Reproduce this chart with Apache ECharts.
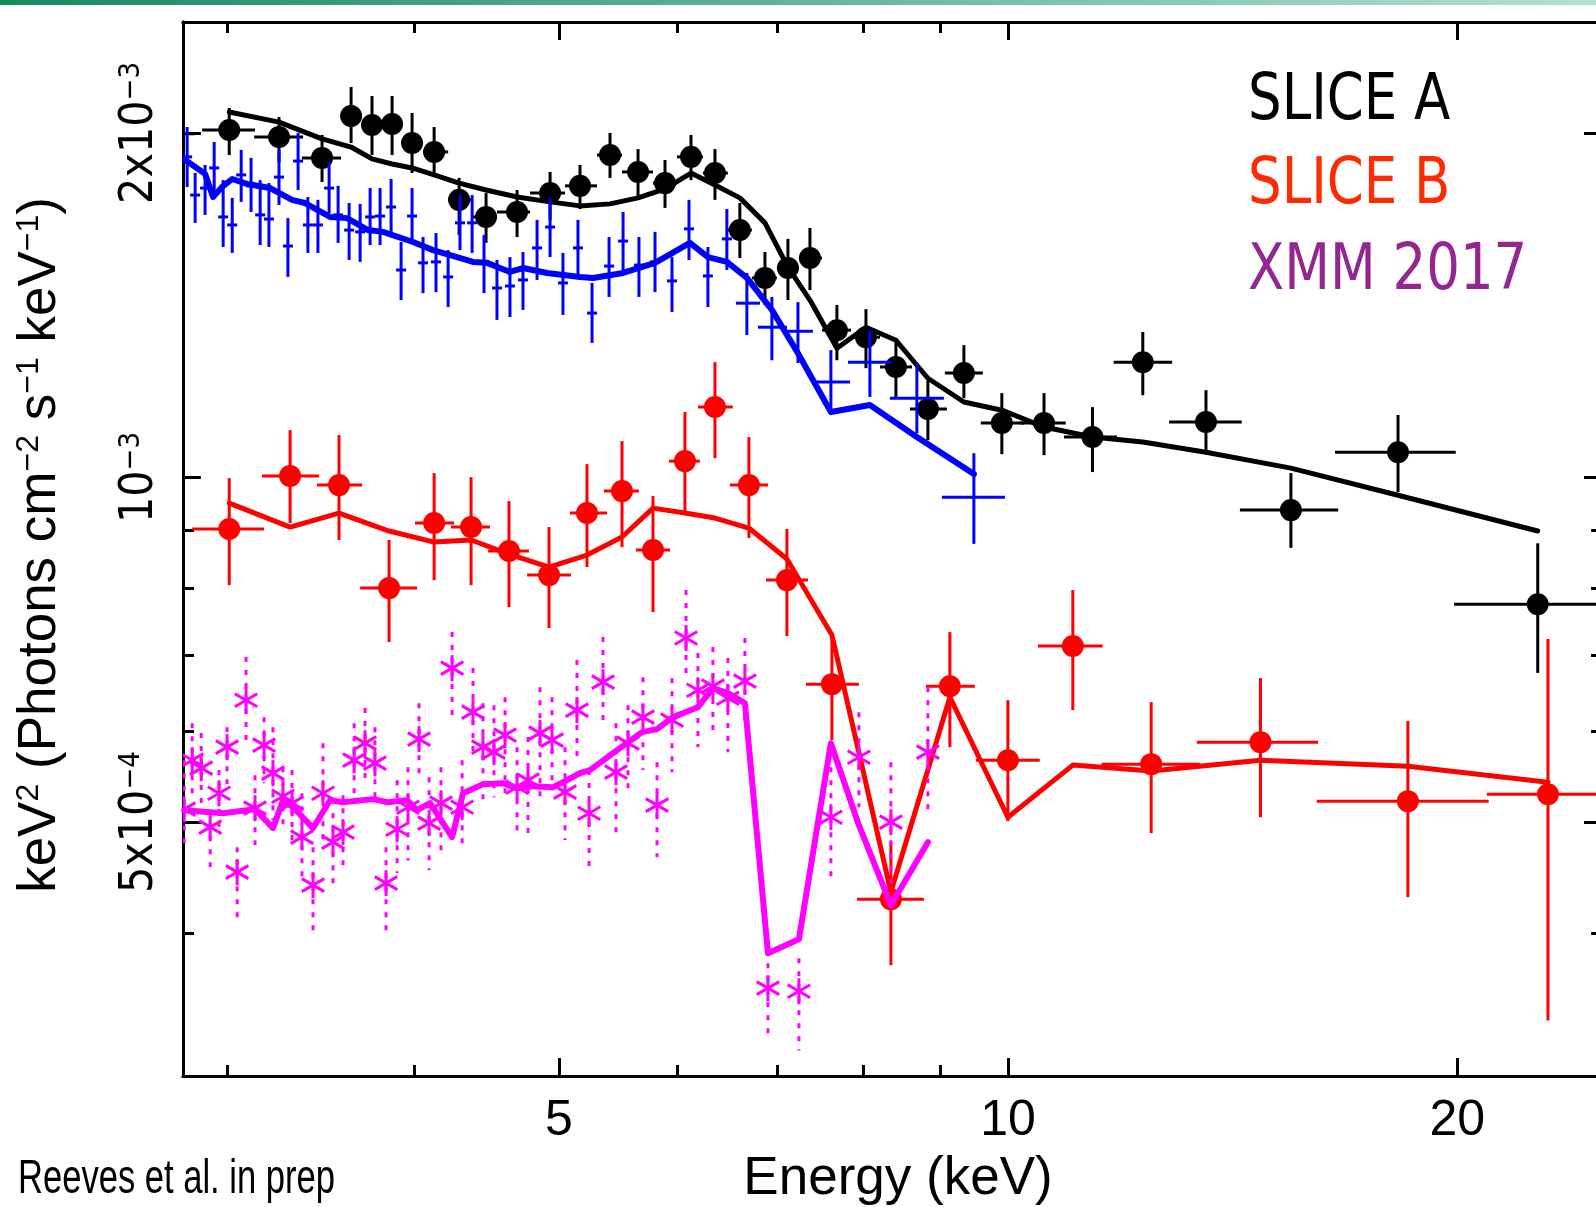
<!DOCTYPE html>
<html>
<head>
<meta charset="utf-8">
<title>Slice A / Slice B / XMM 2017 unfolded spectra</title>
<script src="https://cdn.jsdelivr.net/npm/echarts@6/dist/echarts.min.js"></script>
<style>
  html, body { margin: 0; padding: 0; background: #ffffff; }
  #chart { width: 1596px; height: 1207px; }
</style>
</head>
<body>
<div id="chart"></div>
<script>
// Fluxes below are written in units of 1e-3 keV^2 (Photons cm^-2 s^-1 keV^-1).
const FLUX_UNIT = 1e-3;

// Axis ranges and tick positions
const energyMin = 2.8, energyMax = 25;
const fluxMin = 3e-4, fluxMax = 2.5e-3;
const energyMajorTicks = [5, 10, 20];
const energyMinorTicks = [3, 4, 6, 7, 8, 9];
const energyTickLabels = ['5', '10', '20'];
const fluxMajorTicks = [5e-4, 1e-3, 2e-3];
const fluxMinorTicks = [4e-4, 6e-4, 7e-4, 8e-4, 9e-4];
const fluxTickMantissa = ['5x10', '10', '2x10'];
const fluxTickExponent = ['\u22124', '\u22123', '\u22123'];

// ---- SLICE A (black) ----
const sliceAEnergy   = [2.746, 3.007, 3.247, 3.470, 3.629, 3.748, 3.866, 3.987, 4.125, 4.287, 4.469, 4.688, 4.933, 5.166, 5.411, 5.650, 5.890, 6.131, 6.362, 6.611, 6.872, 7.120, 7.366, 7.679, 8.031, 8.411, 8.836, 9.341, 9.904, 10.57, 11.39, 12.31, 13.57, 15.47, 18.25, 22.64];
const sliceAEnergyLo = [2.641, 2.884, 3.125, 3.364, 3.573, 3.691, 3.812, 3.920, 4.055, 4.215, 4.367, 4.545, 4.783, 5.048, 5.303, 5.512, 5.782, 6.000, 6.245, 6.490, 6.735, 7.000, 7.242, 7.504, 7.848, 8.207, 8.595, 9.071, 9.588, 10.18, 10.90, 11.77, 12.82, 14.30, 16.56, 19.90];
const sliceAEnergyHi = [2.853, 3.129, 3.370, 3.573, 3.691, 3.812, 3.920, 4.055, 4.215, 4.367, 4.545, 4.783, 5.048, 5.303, 5.512, 5.782, 6.000, 6.245, 6.490, 6.735, 7.000, 7.242, 7.504, 7.848, 8.207, 8.622, 9.099, 9.618, 10.25, 10.93, 11.83, 12.88, 14.34, 16.64, 19.95, 25.50];
const sliceAFlux     = [1.997, 2.012, 1.984, 1.902, 2.069, 2.032, 2.036, 1.960, 1.925, 1.748, 1.689, 1.706, 1.772, 1.798, 1.913, 1.849, 1.808, 1.906, 1.845, 1.645, 1.494, 1.524, 1.555, 1.345, 1.326, 1.249, 1.148, 1.234, 1.116, 1.116, 1.085, 1.261, 1.118, 0.9365, 1.052, 0.775];
const sliceAFluxHi   = [2.073, 2.103, 2.065, 1.992, 2.194, 2.154, 2.154, 2.082, 2.024, 1.827, 1.772, 1.783, 1.849, 1.875, 2.000, 1.936, 1.894, 1.992, 1.936, 1.737, 1.574, 1.616, 1.652, 1.415, 1.403, 1.324, 1.216, 1.305, 1.185, 1.185, 1.152, 1.340, 1.192, 1.009, 1.134, 0.876];
const sliceAFluxLo   = [1.913, 1.913, 1.886, 1.812, 1.960, 1.913, 1.913, 1.845, 1.830, 1.629, 1.603, 1.622, 1.679, 1.716, 1.827, 1.758, 1.720, 1.819, 1.748, 1.555, 1.415, 1.429, 1.458, 1.266, 1.246, 1.176, 1.078, 1.173, 1.048, 1.046, 1.011, 1.180, 1.057, 0.868, 0.971, 0.675];
const sliceAModelEnergy = [3.007, 3.247, 3.470, 3.629, 3.748, 3.866, 3.987, 4.125, 4.287, 4.469, 4.688, 4.933, 5.166, 5.411, 5.650, 5.890, 6.131, 6.362, 6.611, 6.872, 7.120, 7.366, 7.679, 8.031, 8.411, 8.836, 9.341, 9.904, 10.57, 11.39, 12.31, 13.57, 15.47, 18.25, 22.64];
const sliceAModelFlux   = [2.086, 2.044, 1.976, 1.944, 1.898, 1.879, 1.864, 1.838, 1.808, 1.783, 1.758, 1.741, 1.727, 1.734, 1.755, 1.787, 1.845, 1.801, 1.755, 1.669, 1.527, 1.429, 1.297, 1.353, 1.318, 1.221, 1.164, 1.145, 1.107, 1.085, 1.074, 1.052, 1.019, 0.965, 0.898];

// ---- blue spectrum (no legend entry) ----
const blueEnergy = [2.818, 2.853, 2.897, 2.938, 2.979, 3.021, 3.063, 3.110, 3.154, 3.197, 3.247, 3.292, 3.344, 3.395, 3.448, 3.508, 3.557, 3.618, 3.680, 3.737, 3.795, 3.860, 3.920, 3.987, 4.055, 4.137, 4.215, 4.293, 4.374, 4.455, 4.545, 4.637, 4.731, 4.835, 4.933, 5.032, 5.150, 5.263, 5.403, 5.521, 5.658, 5.800, 5.954, 6.112, 6.293, 6.480, 6.683, 6.946, 7.231, 7.608, 8.080, 8.687, 9.486];
// Energy bounds are given only for the broad high-energy bins; the narrow bins get a short tick.
const blueEnergyLo = [null, null, null, null, null, null, null, null, null, null, null, null, null, null, null, null, null, null, null, null, null, null, null, null, null, null, null, null, null, null, null, null, null, null, null, null, null, null, null, null, null, null, null, null, null, null, 6.571, 6.799, 7.066, 7.446, 7.811, 8.333, 9.029];
const blueEnergyHi = [null, null, null, null, null, null, null, null, null, null, null, null, null, null, null, null, null, null, null, null, null, null, null, null, null, null, null, null, null, null, null, null, null, null, null, null, null, null, null, null, null, null, null, null, null, null, 6.820, 7.109, 7.400, 7.835, 8.359, 9.057, 9.951];
const blueFlux   = [1.906, 1.765, 1.790, 1.864, 1.689, 1.662, 1.838, 1.798, 1.696, 1.682, 1.830, 1.593, 1.890, 1.662, 1.662, 1.790, 1.696, 1.645, 1.639, 1.689, 1.692, 1.723, 1.518, 1.692, 1.540, 1.543, 1.497, 1.669, 1.669, 1.543, 1.464, 1.470, 1.488, 1.587, 1.655, 1.479, 1.587, 1.392, 1.530, 1.609, 1.533, 1.543, 1.485, 1.649, 1.500, 1.616, 1.420, 1.353, 1.342, 1.212, 1.261, 1.173, 0.961];
const blueFluxHi = [2.024, 1.845, 1.875, 1.964, 1.819, 1.755, 1.933, 1.902, 1.819, 1.808, 1.933, 1.685, 2.000, 1.758, 1.748, 1.886, 1.798, 1.737, 1.734, 1.790, 1.790, 1.823, 1.606, 1.790, 1.622, 1.635, 1.580, 1.765, 1.765, 1.629, 1.549, 1.558, 1.574, 1.679, 1.755, 1.571, 1.679, 1.479, 1.622, 1.706, 1.622, 1.639, 1.558, 1.748, 1.590, 1.716, 1.509, 1.438, 1.423, 1.292, 1.345, 1.259, 1.050];
const blueFluxLo = [1.794, 1.669, 1.696, 1.758, 1.590, 1.571, 1.741, 1.706, 1.596, 1.590, 1.730, 1.497, 1.783, 1.571, 1.571, 1.702, 1.603, 1.549, 1.543, 1.596, 1.596, 1.629, 1.429, 1.603, 1.449, 1.452, 1.409, 1.580, 1.571, 1.449, 1.373, 1.381, 1.401, 1.488, 1.558, 1.387, 1.497, 1.311, 1.438, 1.518, 1.438, 1.452, 1.395, 1.549, 1.409, 1.518, 1.332, 1.266, 1.259, 1.138, 1.176, 1.093, 0.875];
const blueModelEnergy = [2.81, 2.897, 2.933, 2.974, 3.021, 3.091, 3.203, 3.313, 3.380, 3.513, 3.606, 3.725, 3.812, 3.993, 4.118, 4.273, 4.380, 4.476, 4.637, 4.731, 4.910, 5.166, 5.271, 5.521, 5.800, 6.121, 6.293, 6.480, 6.683, 6.946, 7.231, 7.608, 8.080, 8.687, 9.486];
const blueModelFlux   = [1.894, 1.842, 1.758, 1.794, 1.823, 1.805, 1.790, 1.748, 1.737, 1.689, 1.685, 1.645, 1.639, 1.606, 1.580, 1.558, 1.543, 1.540, 1.512, 1.524, 1.509, 1.497, 1.494, 1.509, 1.540, 1.603, 1.558, 1.543, 1.494, 1.401, 1.284, 1.141, 1.157, 1.085, 1.007];

// ---- SLICE B (red) ----
const sliceBEnergy   = [3.007, 3.303, 3.562, 3.848, 4.125, 4.367, 4.630, 4.925, 5.222, 5.512, 5.782, 6.074, 6.362, 6.704, 7.109, 7.620, 8.346, 9.141, 9.997, 11.05, 12.47, 14.76, 18.53, 23.00];
const sliceBEnergyLo = [2.840, 3.163, 3.443, 3.680, 4.005, 4.234, 4.483, 4.761, 5.087, 5.361, 5.632, 5.927, 6.197, 6.510, 6.882, 7.321, 7.920, 8.809, 9.515, 10.47, 11.55, 13.38, 16.10, 20.93];
const sliceBEnergyHi = [3.173, 3.454, 3.691, 4.018, 4.254, 4.496, 4.775, 5.095, 5.386, 5.658, 5.936, 6.216, 6.540, 6.904, 7.344, 7.944, 8.782, 9.500, 10.50, 11.57, 13.44, 16.13, 20.99, 25.50];
const sliceBFlux     = [0.9015, 1.003, 0.9848, 0.8005, 0.9124, 0.9051, 0.8625, 0.8217, 0.9309, 0.9730, 0.8642, 1.0335, 1.1522, 0.9848, 0.8135, 0.6599, 0.4282, 0.6572, 0.5663, 0.7124, 0.5618, 0.5872, 0.5215, 0.5288];
const sliceBFluxHi   = [0.9988, 1.100, 1.089, 0.8818, 1.0089, 1.0008, 0.9536, 0.9051, 1.0273, 1.076, 0.9633, 1.1407, 1.2613, 1.0847, 0.9015, 0.7313, 0.4802, 0.7327, 0.6389, 0.7973, 0.6364, 0.6679, 0.6126, 0.7225];
const sliceBFluxLo   = [0.8053, 0.9124, 0.8818, 0.7182, 0.8135, 0.8053, 0.7705, 0.7387, 0.8351, 0.8694, 0.7628, 0.9328, 1.0398, 0.8853, 0.7269, 0.5896, 0.3749, 0.5813, 0.5009, 0.6263, 0.4890, 0.5049, 0.4299, 0.3355];
const sliceBModelEnergy = [3.007, 3.303, 3.562, 3.848, 4.125, 4.367, 4.630, 4.925, 5.222, 5.512, 5.782, 6.074, 6.362, 6.704, 7.109, 7.620, 8.346, 9.141, 9.997, 11.05, 12.47, 14.76, 18.53, 23.00];
const sliceBModelFlux   = [0.9498, 0.9051, 0.9309, 0.8979, 0.8782, 0.8818, 0.8573, 0.8351, 0.8556, 0.8871, 0.9403, 0.9309, 0.9216, 0.9033, 0.8487, 0.7284, 0.4343, 0.6428, 0.5049, 0.5607, 0.5540, 0.5663, 0.5595, 0.5418];

// ---- XMM 2017 (magenta) ----
const xmmEnergy = [2.805, 2.840, 2.880, 2.920, 2.960, 2.997, 3.044, 3.086, 3.129, 3.173, 3.217, 3.267, 3.313, 3.364, 3.422, 3.475, 3.529, 3.584, 3.646, 3.708, 3.765, 3.830, 3.896, 3.962, 4.030, 4.093, 4.169, 4.241, 4.307, 4.380, 4.448, 4.524, 4.602, 4.688, 4.768, 4.857, 4.948, 5.048, 5.142, 5.239, 5.353, 5.461, 5.563, 5.693, 5.818, 5.954, 6.084, 6.197, 6.342, 6.490, 6.663, 6.904, 7.242, 7.608, 7.944, 8.346, 8.836];
const xmmFlux   = [0.5132, 0.5663, 0.5573, 0.4949, 0.5299, 0.5813, 0.4521, 0.6389, 0.5142, 0.5837, 0.5517, 0.5267, 0.5194, 0.4851, 0.4404, 0.5299, 0.4802, 0.4900, 0.5663, 0.5860, 0.5629, 0.4422, 0.4929, 0.5152, 0.5908, 0.4989, 0.5194, 0.6815, 0.5152, 0.6237, 0.5813, 0.5755, 0.5956, 0.5363, 0.5440, 0.5980, 0.5896, 0.5310, 0.6263, 0.5090, 0.6625, 0.5528, 0.5860, 0.6175, 0.5173, 0.6138, 0.7240, 0.6519, 0.6572, 0.6415, 0.6639, 0.3580, 0.3558, 0.5049, 0.5697, 0.4999, 0.5755];
const xmmFluxHi = [0.5663, 0.6101, 0.5980, 0.5121, 0.5551, 0.6052, 0.4754, 0.6968, 0.5495, 0.6175, 0.6052, 0.5584, 0.5551, 0.5299, 0.4754, 0.5860, 0.5090, 0.5278, 0.6101, 0.6288, 0.6052, 0.4754, 0.5440, 0.5584, 0.6351, 0.5473, 0.5584, 0.7327, 0.5663, 0.6815, 0.6351, 0.6326, 0.6428, 0.5813, 0.5932, 0.6559, 0.6428, 0.5813, 0.6927, 0.5551, 0.7254, 0.6101, 0.6326, 0.6692, 0.5640, 0.6679, 0.7973, 0.7024, 0.7110, 0.6954, 0.7240, 0.3764, 0.3802, 0.5584, 0.6237, 0.5640, 0.6559];
const xmmFluxLo = [0.4737, 0.5257, 0.5173, 0.4567, 0.4919, 0.5385, 0.4104, 0.5813, 0.4775, 0.5407, 0.5021, 0.4919, 0.4823, 0.4449, 0.3998, 0.4823, 0.4360, 0.4521, 0.5257, 0.5440, 0.5225, 0.3998, 0.4512, 0.4629, 0.5517, 0.4539, 0.4660, 0.6138, 0.4754, 0.5697, 0.5225, 0.5257, 0.5257, 0.4919, 0.4890, 0.5257, 0.5331, 0.4823, 0.5663, 0.4567, 0.6052, 0.4890, 0.5331, 0.5551, 0.4660, 0.5528, 0.6652, 0.5813, 0.5932, 0.5755, 0.6052, 0.3236, 0.3158, 0.4476, 0.5152, 0.4422, 0.5090];
const xmmModelEnergy = [2.805, 2.979, 3.129, 3.217, 3.267, 3.318, 3.422, 3.513, 3.584, 3.754, 3.836, 3.956, 4.018, 4.099, 4.241, 4.313, 4.448, 4.587, 4.688, 4.783, 4.955, 5.064, 5.166, 5.247, 5.436, 5.685, 5.818, 5.963, 6.197, 6.342, 6.490, 6.663, 6.904, 7.242, 7.608, 7.944, 8.346, 8.836];
const xmmModelFlux   = [0.5121, 0.5090, 0.5132, 0.4939, 0.5225, 0.5152, 0.4939, 0.5225, 0.5204, 0.5236, 0.5204, 0.5225, 0.5121, 0.5194, 0.4851, 0.5299, 0.5396, 0.5407, 0.5352, 0.5374, 0.5363, 0.5440, 0.5517, 0.5551, 0.5743, 0.5992, 0.6028, 0.6175, 0.6300, 0.6545, 0.6480, 0.6351, 0.3841, 0.3950, 0.5860, 0.4969, 0.4230, 0.4802];

// Legend entries
const legendLabels = ['SLICE A', 'SLICE B', 'XMM 2017'];
const legendColors = ['#000000', '#ff2a00', '#93278f'];

// ---------- data assembly ----------
function errorData(energy, eLo, eHi, flux, fLo, fHi) {
  return energy.map(function (e, i) {
    return [e, flux[i] * FLUX_UNIT,
            eLo ? eLo[i] : null, eHi ? eHi[i] : null,
            fLo[i] * FLUX_UNIT, fHi[i] * FLUX_UNIT];
  });
}
function modelData(energy, flux) {
  return energy.map(function (e, i) { return [e, flux[i] * FLUX_UNIT]; });
}
function num(v) { return (v === null || v === undefined || isNaN(v)) ? null : v; }

// Draws one data bin: horizontal energy bar, vertical flux bar and the marker.
function makeRenderer(cfg) {
  return function (params, api) {
    const e = api.value(0), f = api.value(1);
    const c = api.coord([e, f]);
    const lo = num(api.value(2)), hi = num(api.value(3));
    let x0, x1;
    if (lo !== null && hi !== null) {
      x0 = api.coord([lo, f])[0];
      x1 = api.coord([hi, f])[0];
    } else {
      x0 = c[0] - cfg.tick;
      x1 = c[0] + cfg.tick;
    }
    const yLo = api.coord([e, api.value(4)])[1];
    const yHi = api.coord([e, api.value(5)])[1];
    const children = [];
    if (cfg.hbar !== false) {
      children.push({ type: 'line', shape: { x1: x0, y1: c[1], x2: x1, y2: c[1] },
        style: { stroke: cfg.color, lineWidth: cfg.lineWidth } });
    }
    children.push({ type: 'line', shape: { x1: c[0], y1: yHi, x2: c[0], y2: yLo },
      style: { stroke: cfg.color, lineWidth: cfg.lineWidth, lineDash: cfg.dash || null } });
    if (cfg.marker === 'circle') {
      children.push({ type: 'circle', shape: { cx: c[0], cy: c[1], r: cfg.radius },
        style: { fill: cfg.color } });
    } else if (cfg.marker === 'asterisk') {
      const r = cfg.radius;
      const dx = r * Math.cos(Math.PI / 6), dy = r * Math.sin(Math.PI / 6);
      const st = { stroke: cfg.color, lineWidth: cfg.markerWidth };
      children.push({ type: 'line', shape: { x1: c[0], y1: c[1] - r, x2: c[0], y2: c[1] + r }, style: st });
      children.push({ type: 'line', shape: { x1: c[0] - dx, y1: c[1] - dy, x2: c[0] + dx, y2: c[1] + dy }, style: st });
      children.push({ type: 'line', shape: { x1: c[0] - dx, y1: c[1] + dy, x2: c[0] + dx, y2: c[1] - dy }, style: st });
    }
    return { type: 'group', children: children };
  };
}

function modelSeries(name, data, color, width, z) {
  return {
    type: 'line', name: name, data: data, symbol: 'none', showSymbol: false,
    clip: true, z: z, silent: true,
    lineStyle: { color: color, width: width, cap: 'round', join: 'round' }
  };
}
function pointSeries(name, data, cfg, z) {
  return {
    type: 'custom', name: name, data: data, clip: true, z: z, silent: true,
    encode: { x: 0, y: 1 },
    renderItem: makeRenderer(cfg)
  };
}

// ---------- axes ----------
const labelFont = "'Liberation Sans', Arial, Helvetica, sans-serif";
const condensedFont = "'DejaVu Sans Condensed', 'Liberation Sans', sans-serif";

function sameLog(a, b) { return Math.abs(Math.log10(a) - Math.log10(b)) < 1e-6; }

function energyAxis(position, ticks, len, withLabels) {
  return {
    type: 'log', logBase: 10, min: energyMin, max: energyMax, position: position,
    axisLine: { show: true, onZero: false, lineStyle: { color: '#000', width: 3 } },
    axisTick: { show: true, inside: true, length: len, customValues: ticks,
                lineStyle: { color: '#000', width: 3 } },
    axisLabel: {
      show: withLabels, customValues: ticks, margin: 20,
      color: '#000', fontSize: 50, fontFamily: labelFont,
      formatter: function (v) {
        for (let i = 0; i < energyMajorTicks.length; i++) {
          if (sameLog(v, energyMajorTicks[i])) return energyTickLabels[i];
        }
        return '';
      }
    },
    splitLine: { show: false }, minorTick: { show: false }, minorSplitLine: { show: false }
  };
}
function fluxAxis(position, ticks, len, withLabels) {
  return {
    type: 'log', logBase: 10, min: fluxMin, max: fluxMax, position: position,
    axisLine: { show: true, onZero: false, lineStyle: { color: '#000', width: 3 } },
    axisTick: { show: true, inside: true, length: len, customValues: ticks,
                lineStyle: { color: '#000', width: 3 } },
    axisLabel: {
      show: withLabels, customValues: ticks, rotate: 90, margin: 20,
      color: '#000', fontFamily: condensedFont, fontSize: 46,
      formatter: function (v) {
        for (let i = 0; i < fluxMajorTicks.length; i++) {
          if (sameLog(v, fluxMajorTicks[i])) return '{m|' + fluxTickMantissa[i] + '}{e|' + fluxTickExponent[i] + '}';
        }
        return '';
      },
      rich: {
        m: { fontSize: 46, fontFamily: condensedFont, color: '#000', verticalAlign: 'bottom' },
        e: { fontSize: 29, fontFamily: condensedFont, color: '#000', verticalAlign: 'top' }
      }
    },
    splitLine: { show: false }, minorTick: { show: false }, minorSplitLine: { show: false }
  };
}

const chart = echarts.init(document.getElementById('chart'), null, { renderer: 'canvas' });

const textGraphics = [
  {
    type: 'rect', left: 0, top: 0, silent: true,
    shape: { x: 0, y: 0, width: 1596, height: 5 },
    style: { fill: new echarts.graphic.LinearGradient(0, 0, 1, 0, [
      { offset: 0, color: '#178a5c' }, { offset: 1, color: '#b4e0d1' }]) }
  },
  {
    type: 'text', x: 40, y: 545, rotation: Math.PI / 2, silent: true,
    style: {
      text: '{t|keV}{s|2}{t| (Photons cm}{s|\u22122}{t| s}{s|\u22121}{t| keV}{s|\u22121}{t|)}',
      align: 'center', verticalAlign: 'middle',
      rich: {
        t: { fontSize: 53, fontFamily: labelFont, fill: '#000', verticalAlign: 'bottom' },
        s: { fontSize: 32, fontFamily: labelFont, fill: '#000', verticalAlign: 'top' }
      }
    }
  },
  {
    type: 'text', x: 898, y: 1179, silent: true,
    style: { text: 'Energy (keV)', fontSize: 53, fontFamily: labelFont, fill: '#000',
             align: 'center', verticalAlign: 'middle' }
  },
  {
    type: 'text', x: 18, y: 1180, scaleX: 0.72, silent: true,
    style: { text: 'Reeves et al. in prep', fontSize: 48, fontFamily: labelFont, fill: '#000',
             align: 'left', verticalAlign: 'middle' }
  }
];
const legendY = [102, 186, 272];
legendLabels.forEach(function (label, i) {
  textGraphics.push({
    type: 'text', x: 1248, y: legendY[i], scaleX: 0.92, silent: true,
    style: { text: label, fontSize: 64, fontFamily: condensedFont, fill: legendColors[i],
             align: 'left', verticalAlign: 'middle' }
  });
});

chart.setOption({
  animation: false,
  backgroundColor: '#ffffff',
  grid: { left: 183, top: 22, width: 1419, height: 1054, containLabel: false, outerBoundsMode: 'none' },
  xAxis: [
    energyAxis('bottom', energyMajorTicks, 18, true),
    energyAxis('bottom', energyMinorTicks, 11, false),
    energyAxis('top', energyMajorTicks, 18, false),
    energyAxis('top', energyMinorTicks, 11, false)
  ],
  yAxis: [
    fluxAxis('left', fluxMajorTicks, 18, true),
    fluxAxis('left', fluxMinorTicks, 11, false),
    fluxAxis('right', fluxMajorTicks, 18, false),
    fluxAxis('right', fluxMinorTicks, 11, false)
  ],
  graphic: textGraphics,
  series: [
    modelSeries('SLICE A model', modelData(sliceAModelEnergy, sliceAModelFlux), '#000000', 5, 2),
    pointSeries('SLICE A', errorData(sliceAEnergy, sliceAEnergyLo, sliceAEnergyHi, sliceAFlux, sliceAFluxLo, sliceAFluxHi),
      { color: '#000000', lineWidth: 3, marker: 'circle', radius: 11 }, 2),
    modelSeries('SLICE B model', modelData(sliceBModelEnergy, sliceBModelFlux), '#ff0000', 5, 3),
    pointSeries('SLICE B', errorData(sliceBEnergy, sliceBEnergyLo, sliceBEnergyHi, sliceBFlux, sliceBFluxLo, sliceBFluxHi),
      { color: '#ff0000', lineWidth: 3, marker: 'circle', radius: 11 }, 3),
    modelSeries('blue model', modelData(blueModelEnergy, blueModelFlux), '#0000ff', 6, 4),
    pointSeries('blue', errorData(blueEnergy, blueEnergyLo, blueEnergyHi, blueFlux, blueFluxLo, blueFluxHi),
      { color: '#0000ff', lineWidth: 3, marker: 'none', tick: 5 }, 4),
    pointSeries('XMM 2017', errorData(xmmEnergy, null, null, xmmFlux, xmmFluxLo, xmmFluxHi),
      { color: '#ff00ff', lineWidth: 3, dash: [5, 8], hbar: false, marker: 'asterisk', radius: 13, markerWidth: 3 }, 5),
    modelSeries('XMM 2017 model', modelData(xmmModelEnergy, xmmModelFlux), '#ff00ff', 6, 5)
  ]
});
</script>
</body>
</html>
